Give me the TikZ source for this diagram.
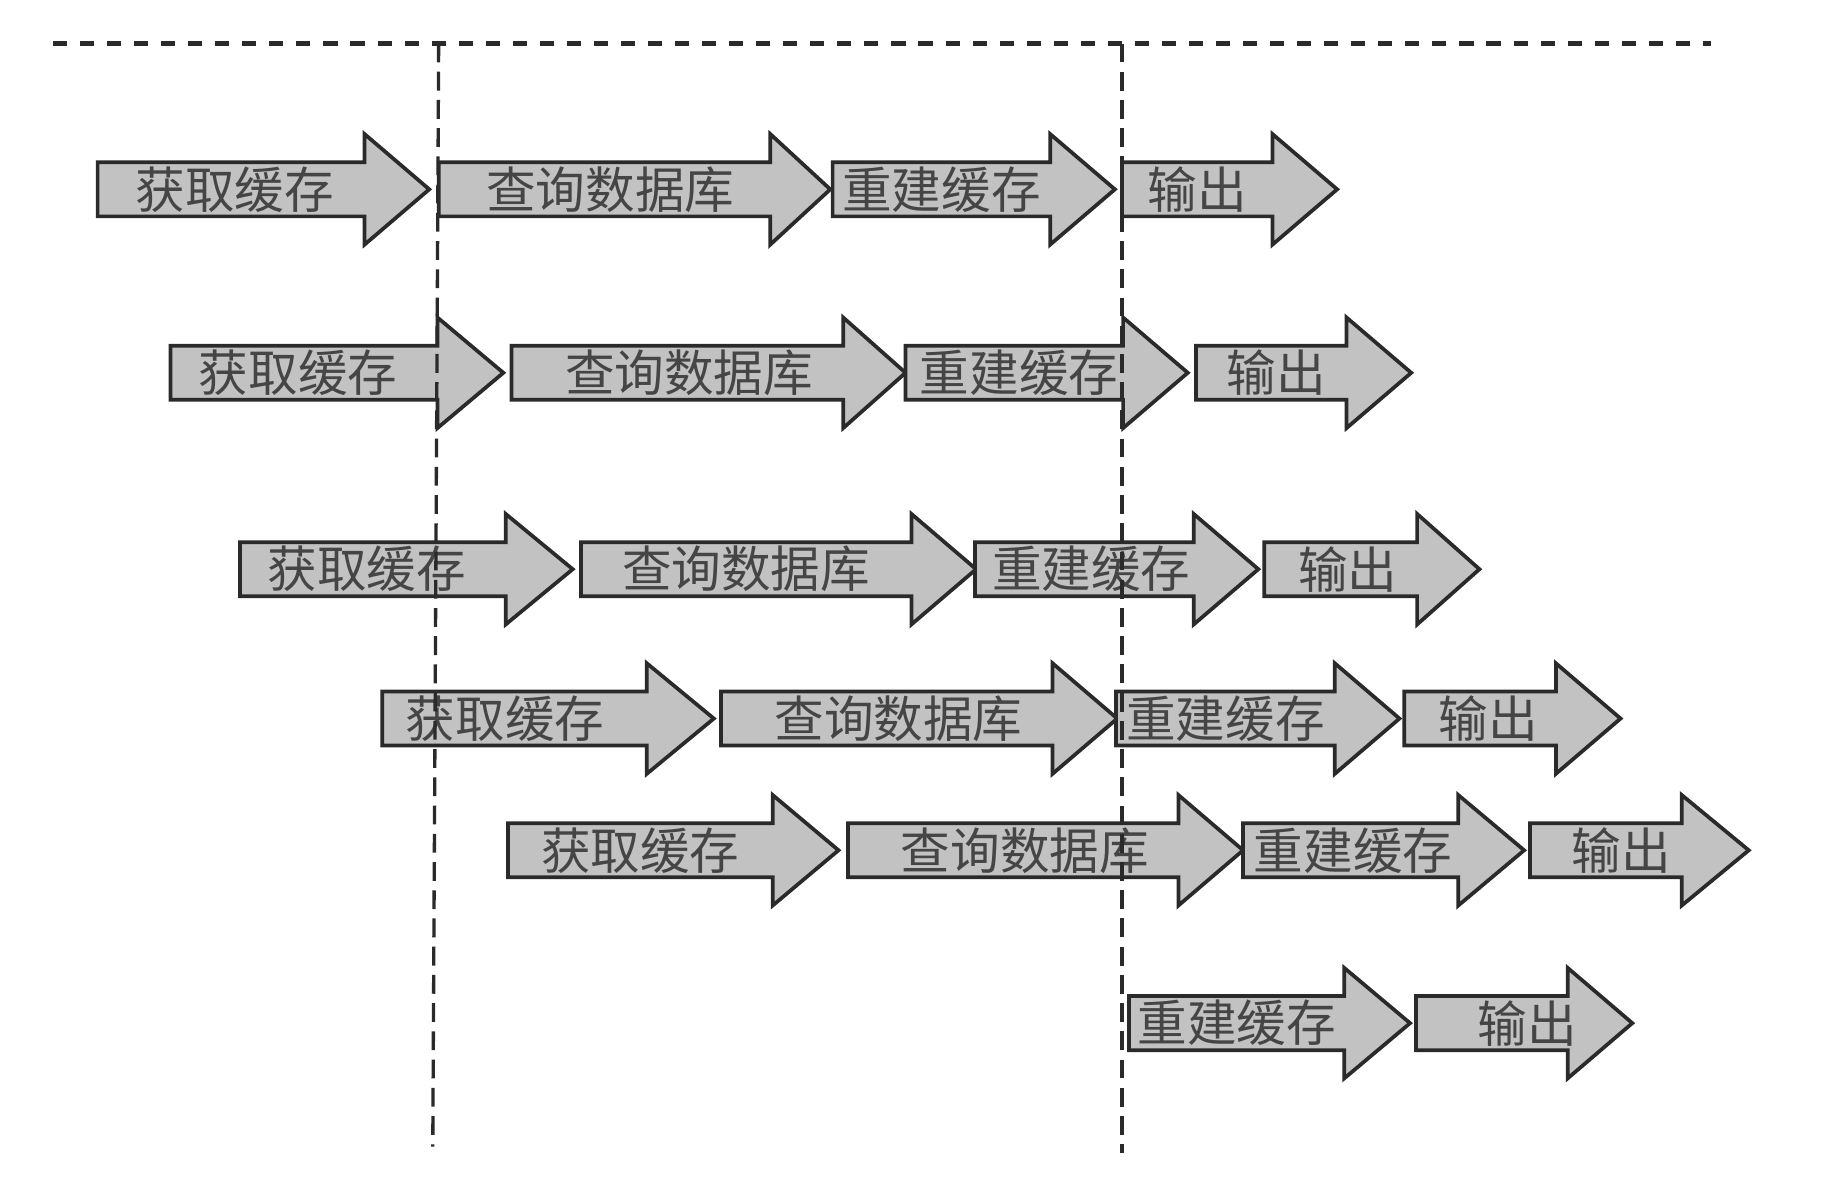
\documentclass[tikz,border=0pt]{standalone}
\usepackage{fontspec}
\usepackage{xcolor}
\usepackage{tikz}
\usetikzlibrary{calc}
\newfontfamily\cjk{Noto Sans CJK SC}
\definecolor{StageGray}{HTML}{C2C2C2}
\definecolor{StageInk}{HTML}{2A2A2A}
\definecolor{StageText}{HTML}{454545}
% #1 label shift, #2 name, #3 left, #4 head start, #5 tip, #6 middle y, #7 label
\newcommand{\stagearrow}[7][0]{%
  \draw[stage] (#3,#6+0.23) -- (#4,#6+0.23) -- (#4,#6+0.47) -- (#5,#6)
    -- (#4,#6-0.47) -- (#4,#6-0.23) -- (#3,#6-0.23) -- cycle;
  \node[stagetext] (#2) at ({(#3+#4)/2+#1},#6) {#7};%
}

\begin{document}
\begin{tikzpicture}[
    stage/.style={draw=StageInk,line width=0.9pt,fill=StageGray,line join=miter},
    stagetext/.style={text=StageText,font=\cjk\fontsize{12}{14}\selectfont,inner sep=0pt},
    guide/.style={StageInk,line width=0.8pt,dash pattern=on 0.16cm off 0.08cm}]
  \useasboundingbox (0,0) rectangle (15.68,-10.08);
  % row 1
  \stagearrow[0.03]{r1get}{0.83}{3.10}{3.65}{-1.61}{获取缓存}
  \stagearrow[0.05]{r1query}{3.73}{6.55}{7.06}{-1.61}{查询数据库}
  \stagearrow{r1rebuild}{7.08}{8.93}{9.48}{-1.61}{重建缓存}
  \stagearrow{r1out}{9.54}{10.82}{11.37}{-1.61}{输出}
  % row 2
  \stagearrow[-0.05]{r2get}{1.45}{3.72}{4.28}{-3.17}{获取缓存}
  \stagearrow[0.1]{r2query}{4.35}{7.17}{7.70}{-3.17}{查询数据库}
  \stagearrow[0.04]{r2rebuild}{7.70}{9.55}{10.10}{-3.17}{重建缓存}
  \stagearrow[0.04]{r2out}{10.17}{11.45}{12.00}{-3.17}{输出}
  % row 3
  \stagearrow[-0.05]{r3get}{2.04}{4.30}{4.87}{-4.84}{获取缓存}
  \stagearrow{r3query}{4.94}{7.75}{8.30}{-4.84}{查询数据库}
  \stagearrow[0.06]{r3rebuild}{8.29}{10.15}{10.70}{-4.84}{重建缓存}
  \stagearrow[0.06]{r3out}{10.75}{12.05}{12.58}{-4.84}{输出}
  % row 4
  \stagearrow[-0.08]{r4get}{3.25}{5.50}{6.07}{-6.11}{获取缓存}
  \stagearrow[0.1]{r4query}{6.13}{8.95}{9.50}{-6.11}{查询数据库}
  \stagearrow{r4rebuild}{9.49}{11.35}{11.90}{-6.11}{重建缓存}
  \stagearrow[0.07]{r4out}{11.94}{13.23}{13.78}{-6.11}{输出}
  % row 5
  \stagearrow{r5get}{4.32}{6.57}{7.13}{-7.23}{获取缓存}
  \stagearrow[0.1]{r5query}{7.21}{10.02}{10.57}{-7.23}{查询数据库}
  \stagearrow[0.02]{r5rebuild}{10.57}{12.40}{12.96}{-7.23}{重建缓存}
  \stagearrow[0.13]{r5out}{13.01}{14.30}{14.87}{-7.23}{输出}
  % row 6
  \stagearrow{r6rebuild}{9.60}{11.43}{11.99}{-8.70}{重建缓存}
  \stagearrow[0.3]{r6out}{12.04}{13.33}{13.88}{-8.70}{输出}
  % guide lines
  \draw[StageInk,line width=1.3pt,dash pattern=on 0.12cm off 0.11cm]
    (0.45,-0.37) -- (14.55,-0.37);
  \draw[guide] (3.73,-0.37) -- (3.68,-9.75);
  \draw[guide] (9.54,-0.37) -- (9.54,-9.80);
\end{tikzpicture}
\end{document}
